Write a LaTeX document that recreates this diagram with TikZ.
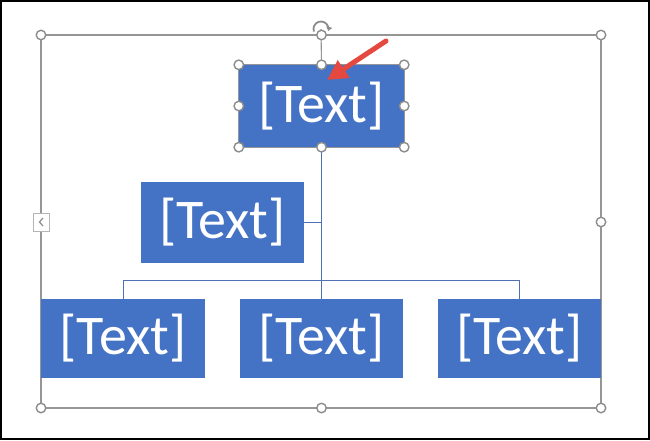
\documentclass[tikz,border=0pt]{standalone}
\usepackage{fontspec}
\setmainfont{Carlito}
\usetikzlibrary{arrows.meta}
\definecolor{boxblue}{RGB}{68,114,196}
\definecolor{linkblue}{RGB}{80,112,180}
\definecolor{selgray}{RGB}{150,150,150}
\definecolor{hdlgray}{RGB}{140,140,140}
\definecolor{arrred}{RGB}{229,72,62}
\tikzset{
  x=1pt, y=-1pt,
  textbox/.style={fill=boxblue, text=white, inner sep=0pt, font=\fontsize{56}{56}\selectfont},
  link/.style={draw=linkblue, line width=1pt},
  selframe/.style={draw=selgray, line width=1.1pt},
  handle/.style={circle, fill=white, draw=hdlgray, line width=1.4pt, minimum size=9.5pt, inner sep=0pt},
}
\begin{document}
\begin{tikzpicture}
\useasboundingbox (0,0) rectangle (650,440);
\draw[black, line width=2pt] (1,1) rectangle (649,439);

% outer selection frame
\coordinate (fnw) at (41,35);
\coordinate (fse) at (601,408);
\draw[selframe] (fnw) rectangle (fse);

% boxes
\node[textbox, minimum width=165pt, minimum height=82pt] (top) at (321.5,106) {[Text]};
\node[textbox, minimum width=163pt, minimum height=81pt] (mid) at (222.5,222.5) {[Text]};
\node[textbox, minimum width=164pt, minimum height=79pt] (bl) at (123,338.5) {[Text]};
\node[textbox, minimum width=163pt, minimum height=79pt] (bm) at (321.5,338.5) {[Text]};
\node[textbox, minimum width=163pt, minimum height=79pt] (br) at (519.5,338.5) {[Text]};

% connectors
\coordinate (bar) at (321.5,280);
\draw[link] (top.south) -- (bm.north);
\draw[link] (mid.east) -- (top.south |- mid.east);
\draw[link] (bl.north) -- (bl.north |- bar) -- (br.north |- bar) -- (br.north);

% selection frame around top box
\draw[selframe, line width=0.8pt] (top.north west) rectangle (top.south east);

% rotation handle
\coordinate (rot) at (321,29);
\draw[selframe] (top.north) -- (rot);
\draw[hdlgray, line width=1.8pt, -{Triangle[length=4pt,width=6pt]}] (rot) ++(160:7.5) arc[start angle=160, end angle=375, radius=7.5];

% handles of outer frame
\foreach \p in {(41,35),(321.5,35),(601,35),(601,222),(41,408),(321.5,408),(601,408)}
  \node[handle] at \p {};
% left tab
\draw[fill=white, draw=selgray!70, line width=0.8pt] (33,213) rectangle (49,231);
\draw[hdlgray, line width=1.2pt] (43,218) -- (39.5,222) -- (43,226);

% handles of top box
\foreach \a in {north west,north,north east,west,east,south west,south,south east}
  \node[handle] at (top.\a) {};

% red arrow
\coordinate (atail) at (386,41);
\coordinate (ahead) at (327,80);
\draw[arrred, line width=5pt, line cap=round, -{Triangle[length=20pt,width=20pt]}] (atail) -- (ahead);
\end{tikzpicture}
\end{document}
